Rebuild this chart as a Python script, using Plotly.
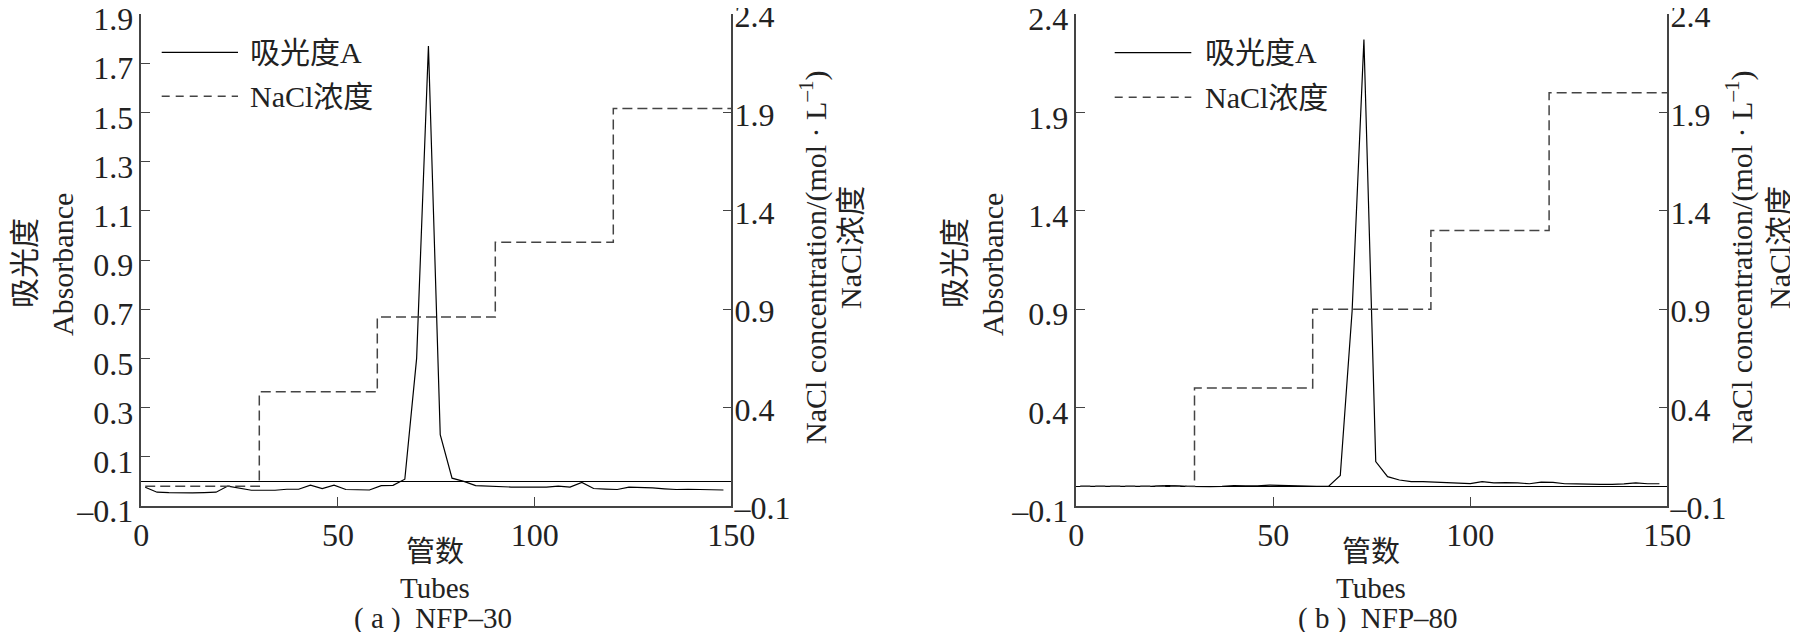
import plotly.graph_objects as go

# tube numbers where absorbance was read (every 3rd tube)
tubes = [1, 4, 7, 10, 13, 16, 19, 22, 25, 28, 31, 34, 37, 40, 43, 46, 49, 52, 55, 58,
         61, 64, 67, 70, 73, 76, 79, 82, 85, 88, 91, 94, 97, 100, 103, 106, 109, 112, 115, 118,
         121, 124, 127, 130, 133, 136, 139, 142, 145, 148]

# (a) NFP-30 absorbance
nfp30_abs = [-0.024, -0.044, -0.046, -0.048, -0.047, -0.046, -0.044, -0.019, -0.028, -0.036,
             -0.036, -0.036, -0.032, -0.032, -0.015, -0.029, -0.015, -0.033, -0.034, -0.035,
             -0.017, -0.016, 0.009, 0.50, 1.77, 0.19, 0.013, 0.0, -0.017, -0.020,
             -0.022, -0.023, -0.023, -0.023, -0.023, -0.019, -0.023, -0.004, -0.029, -0.031,
             -0.033, -0.023, -0.023, -0.026, -0.030, -0.033, -0.032, -0.033, -0.034, -0.035]

# (b) NFP-80 absorbance
nfp80_abs = [0.0, 0.0, -0.002, -0.002, -0.002, 0.0, 0.0, 0.004, 0.004, 0.0,
             -0.002, -0.002, 0.0, 0.004, 0.002, 0.002, 0.006, 0.004, 0.002, 0.0,
             0.0, 0.0, 0.055, 0.89, 2.27, 0.126, 0.049, 0.032, 0.024, 0.024,
             0.022, 0.020, 0.017, 0.014, 0.024, 0.018, 0.019, 0.018, 0.013, 0.021,
             0.020, 0.013, 0.012, 0.010, 0.010, 0.010, 0.012, 0.018, 0.013, 0.013]

# NaCl step gradient
nacl_tubes = [1, 30, 60, 90, 120, 150]
nfp30_nacl = [0, 0.48, 0.86, 1.24, 1.92, 1.92]
nfp80_nacl = [0, 0.50, 0.90, 1.30, 2.00, 2.00]

# tick labels
x_ticks = [0, 50, 100, 150]
a_left_ticks = [-0.1, 0.1, 0.3, 0.5, 0.7, 0.9, 1.1, 1.3, 1.5, 1.7, 1.9]
a_left_text = ["–0.1", "0.1", "0.3", "0.5", "0.7", "0.9", "1.1", "1.3", "1.5", "1.7", "1.9"]
right_ticks = [-0.1, 0.4, 0.9, 1.4, 1.9, 2.4]
right_text = ["–0.1", "0.4", "0.9", "1.4", "1.9", "2.4"]

W, H = 1798, 632
MT, MB = 6, 134
FONT = "Liberation Serif, 'Noto Sans CJK SC'"
INK = "#222222"
AXC = "#444444"


def fx(px):
    return px / W


def fy(py):
    return (H - MB - py) / (H - MT - MB)


fig = go.Figure()

fig.add_trace(go.Scatter(x=tubes, y=nfp30_abs, mode="lines", xaxis="x", yaxis="y",
                         line=dict(color="black", width=1.2), showlegend=False))
fig.add_trace(go.Scatter(x=nacl_tubes, y=nfp30_nacl, mode="lines", xaxis="x", yaxis="y2",
                         line=dict(color=AXC, width=1.5, dash="10px,5px", shape="hv"),
                         showlegend=False))
fig.add_trace(go.Scatter(x=tubes, y=nfp80_abs, mode="lines", xaxis="x2", yaxis="y3",
                         line=dict(color="black", width=1.2), showlegend=False))
fig.add_trace(go.Scatter(x=nacl_tubes, y=nfp80_nacl, mode="lines", xaxis="x2", yaxis="y4",
                         line=dict(color=AXC, width=1.5, dash="10px,5px", shape="hv"),
                         showlegend=False))

common = dict(showgrid=False, showline=True, linecolor=AXC, linewidth=1.5,
              ticks="inside", ticklen=9, tickcolor=AXC, tickwidth=1.2,
              automargin=False, ticklabeloverflow="allow",
              tickfont=dict(family=FONT, size=32, color=INK))

xa = dict(common, range=[0, 150], tickvals=x_ticks, zeroline=False)
# y labels sit a touch below their ticks, as in the original
ya = dict(common, ticklabelshift=5)
ra = dict(common, range=[-0.1, 2.4001], tickvals=right_ticks, ticktext=right_text,
          side="right", zeroline=False, ticklabelstandoff=-5, ticklabelshift=2)
fig.update_layout(
    xaxis=dict(xa, domain=[fx(133.3), fx(723.3)], anchor="y"),
    xaxis2=dict(xa, domain=[fx(1068.3), fx(1659.3)], anchor="y3"),
    yaxis=dict(ya, range=[-0.1, 1.9001], tickvals=a_left_ticks, ticktext=a_left_text,
               anchor="x", zeroline=True, zerolinecolor="black", zerolinewidth=1.2),
    yaxis2=dict(ra, anchor="x", overlaying="y"),
    yaxis3=dict(ya, range=[-0.1, 2.4001], tickvals=right_ticks, ticktext=right_text,
                anchor="x2", zeroline=True, zerolinecolor="black", zerolinewidth=1.2),
    yaxis4=dict(ra, anchor="x2", overlaying="y3"),
)

# axis titles and captions
labels = [
    ("吸光度", 16, 255, -90), ("Absorbance", 54, 257, -90),
    ("NaCl concentration/(mol · L<sup>–1</sup>)", 805, 250, -90), ("NaCl浓度", 842, 240, -90),
    ("吸光度", 946, 255, -90), ("Absorbance", 984, 257, -90),
    ("NaCl concentration/(mol · L<sup>–1</sup>)", 1731, 250, -90), ("NaCl浓度", 1771, 240, -90),
    ("管数", 427, 544, 0), ("Tubes", 427, 580, 0), ("( a )  NFP–30", 425, 610, 0),
    ("管数", 1363, 544, 0), ("Tubes", 1363, 580, 0), ("( b )  NFP–80", 1370, 610, 0),
]
ann = []
for text, px, py, ang in labels:
    ann.append(dict(text=text, x=fx(px), y=fy(py), xref="paper", yref="paper",
                    textangle=ang, showarrow=False, xanchor="center", yanchor="middle",
                    font=dict(family=FONT, size=30 if ang else 29, color=INK)))

# hand-drawn legend boxes (long line samples like the original)
shapes = []
for x0, x1, xt, y1, y2 in [(153.7, 230, 240, 44.3, 88.3), (1106.7, 1183.3, 1195, 44.7, 89.3)]:
    shapes.append(dict(type="line", xref="paper", yref="paper", x0=fx(x0), x1=fx(x1),
                       y0=fy(y1), y1=fy(y1), line=dict(color="black", width=1.2)))
    shapes.append(dict(type="line", xref="paper", yref="paper", x0=fx(x0), x1=fx(x1),
                       y0=fy(y2), y1=fy(y2), line=dict(color=AXC, width=1.5, dash="8px,6px")))
    for text, yy in [("吸光度A", y1), ("NaCl浓度", y2)]:
        ann.append(dict(text=text, x=fx(xt), y=fy(yy), xref="paper", yref="paper",
                        showarrow=False, xanchor="left", yanchor="middle",
                        font=dict(family=FONT, size=30, color=INK)))

fig.update_layout(
    width=W, height=H,
    margin=dict(l=0, r=0, t=MT, b=MB, autoexpand=False),
    paper_bgcolor="white", plot_bgcolor="white",
    annotations=ann, shapes=shapes,
    showlegend=False,
)

fig.write_html("out.html")
